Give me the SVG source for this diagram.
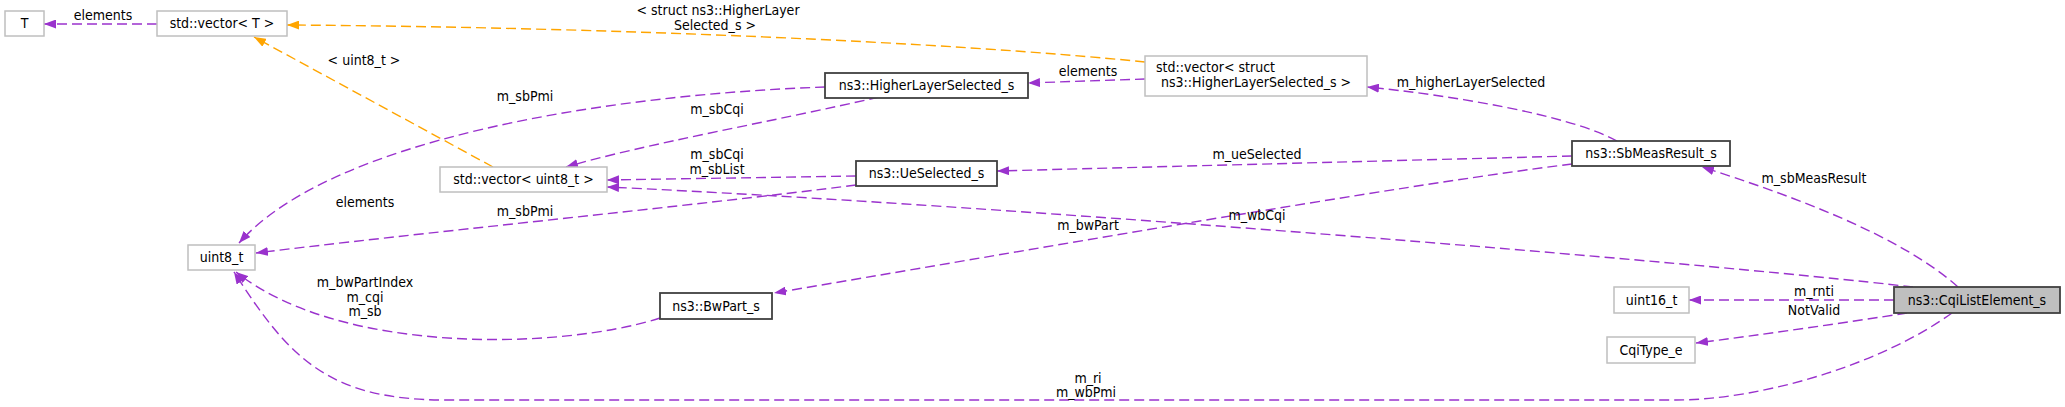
<svg xmlns="http://www.w3.org/2000/svg" width="2065" height="407" viewBox="0 0 2065 407">
<style>
text{font-family:"DejaVu Sans Condensed","DejaVu Sans",sans-serif;font-stretch:condensed;font-size:14px;fill:#000}
.n text{text-anchor:middle}
.g rect{fill:#fff;stroke:#bfbfbf;stroke-width:1.5}
.d rect{fill:#fff;stroke:#404040;stroke-width:1.8}
.cur rect{fill:#bfbfbf;stroke:#404040;stroke-width:1.8}
.e path{fill:none;stroke-width:1.4;stroke-dasharray:10,5}
.p{stroke:#9a32cd;marker-end:url(#ap)}
.o{stroke:#ffa500;marker-end:url(#ao)}
.lbl{text-anchor:middle}
</style>
<defs>
<marker id="ap" viewBox="0 0 12 9" refX="12" refY="4.5" markerWidth="12" markerHeight="9" markerUnits="userSpaceOnUse" orient="auto"><path d="M0,0 L12,4.5 L0,9 z" fill="#9a32cd"/></marker>
<marker id="ao" viewBox="0 0 12 9" refX="12" refY="4.5" markerWidth="12" markerHeight="9" markerUnits="userSpaceOnUse" orient="auto"><path d="M0,0 L12,4.5 L0,9 z" fill="#ffa500"/></marker>
</defs>
<rect width="2065" height="407" fill="#fff"/>
<g id="connectors" class="e">
<path class="p" d="M157,24 L44,24"/>
<path class="o" d="M1145,62 C950,42 600,27 287,25"/>
<path class="o" d="M493,167 L254,37"/>
<path class="p" d="M879,97 C780,120 640,145 566,167"/>
<path class="p" d="M825,87 C600,95 330,140 239,243"/>
<path class="p" d="M1145,79 L1028,83"/>
<path class="p" d="M1617,141 C1570,115 1450,95 1367,87"/>
<path class="p" d="M1572,156 L997,171"/>
<path class="p" d="M1572,164 C1400,185 1000,255 774,293"/>
<path class="p" d="M856,176 L607,180"/>
<path class="p" d="M856,185 C700,205 400,235 256,253"/>
<path class="p" d="M1913,287 C1700,262 1000,205 607,187"/>
<path class="p" d="M1958,287 C1900,235 1790,195 1702,167"/>
<path class="p" d="M1894,300 L1689,300"/>
<path class="p" d="M1907,313 C1850,322 1760,335 1696,343"/>
<path class="p" d="M1952,313 C1880,365 1760,400 1676,400 L446,400 C330,400 290,360 234,272"/>
<path class="p" d="M660,318 C560,350 340,355 236,272"/>
<g class="lbl">
<text x="103" y="20">elements</text>
<text x="718" y="15">&lt; struct ns3::HigherLayer</text>
<text x="715" y="30">Selected_s &gt;</text>
<text x="364" y="65">&lt; uint8_t &gt;</text>
<text x="525" y="101">m_sbPmi</text>
<text x="717" y="114">m_sbCqi</text>
<text x="1088" y="76">elements</text>
<text x="1471" y="87">m_higherLayerSelected</text>
<text x="1814" y="183">m_sbMeasResult</text>
<text x="1257" y="159">m_ueSelected</text>
<text x="717" y="159">m_sbCqi</text>
<text x="717" y="174">m_sbList</text>
<text x="365" y="207">elements</text>
<text x="525" y="216">m_sbPmi</text>
<text x="1257" y="220">m_wbCqi</text>
<text x="1088" y="230">m_bwPart</text>
<text x="365" y="287">m_bwPartIndex</text>
<text x="365" y="302">m_cqi</text>
<text x="365" y="316">m_sb</text>
<text x="1088" y="383">m_ri</text>
<text x="1086" y="397">m_wbPmi</text>
<text x="1814" y="296">m_rnti</text>
<text x="1814" y="315">NotValid</text>
</g>
</g>
<g id="node-T" class="n g"><rect x="5" y="11" width="39" height="25"/><text x="24.5" y="28">T</text></g>
<g id="node-vectorT" class="n g"><rect x="157" y="11" width="130" height="25"/><text x="222" y="28">std::vector&lt; T &gt;</text></g>
<g id="node-vectorHLS" class="g"><rect x="1145" y="56" width="222" height="40"/><text x="1156" y="72">std::vector&lt; struct</text><text x="1161" y="87">ns3::HigherLayerSelected_s &gt;</text></g>
<g id="node-HLS" class="n d"><rect x="825" y="73" width="203" height="25"/><text x="926.5" y="90">ns3::HigherLayerSelected_s</text></g>
<g id="node-SbMeasResult" class="n d"><rect x="1572" y="141" width="158" height="25"/><text x="1651" y="158">ns3::SbMeasResult_s</text></g>
<g id="node-vectorU8" class="n g"><rect x="440" y="167" width="167" height="25"/><text x="523.5" y="184">std::vector&lt; uint8_t &gt;</text></g>
<g id="node-UeSelected" class="n d"><rect x="856" y="161" width="141" height="25"/><text x="926.5" y="178">ns3::UeSelected_s</text></g>
<g id="node-uint8" class="n g"><rect x="188" y="245" width="67" height="25"/><text x="221.5" y="262">uint8_t</text></g>
<g id="node-BwPart" class="n d"><rect x="660" y="293" width="112" height="26"/><text x="716" y="311">ns3::BwPart_s</text></g>
<g id="node-uint16" class="n g"><rect x="1614" y="287" width="75" height="26"/><text x="1651.5" y="305">uint16_t</text></g>
<g id="node-CqiType" class="n g"><rect x="1607" y="337" width="88" height="26"/><text x="1651" y="355">CqiType_e</text></g>
<g id="node-CqiListElement" class="n cur"><rect x="1894" y="287" width="166" height="26"/><text x="1977" y="305">ns3::CqiListElement_s</text></g>
</svg>
